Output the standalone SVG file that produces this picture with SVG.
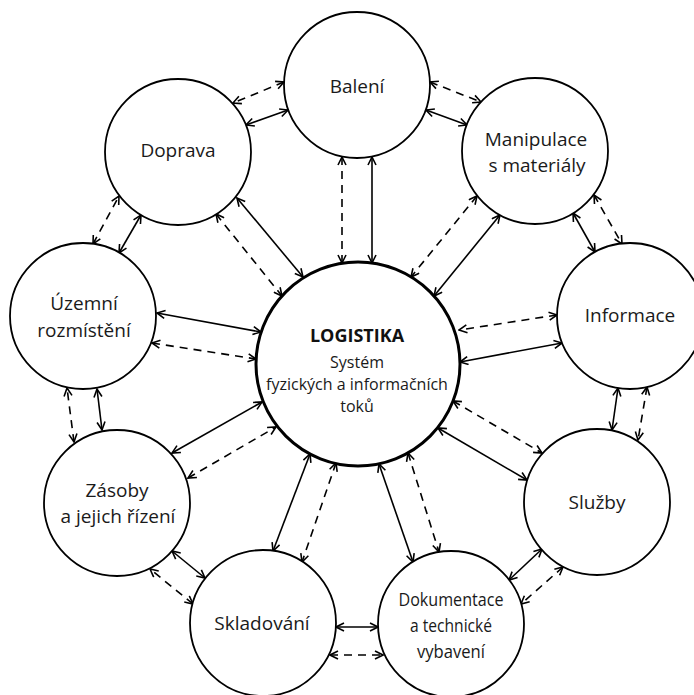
<svg xmlns="http://www.w3.org/2000/svg" width="694" height="695" viewBox="0 0 694 695">
<style>
.node{fill:#fff;stroke:#000;stroke-width:1.8}
.core{fill:#fff;stroke:#000;stroke-width:3}
.lbl{font-family:"Open Sans","Noto Sans",sans-serif;font-size:19px;fill:#1a1a1a;text-anchor:middle}
.sub{font-family:"Open Sans","Noto Sans",sans-serif;font-size:16px;fill:#1a1a1a;text-anchor:middle}
.ttl{font-family:"Open Sans","Noto Sans",sans-serif;font-size:18px;font-weight:bold;fill:#111;text-anchor:middle}
.s{stroke:#000;stroke-width:1.6;fill:none;marker-start:url(#ah);marker-end:url(#ah)}
.d{stroke:#000;stroke-width:1.6;fill:none;stroke-dasharray:8 6;marker-start:url(#ah);marker-end:url(#ah)}
</style>
<defs>
<marker id="ah" viewBox="0 0 10 10" refX="9" refY="5" markerWidth="10" markerHeight="10" markerUnits="userSpaceOnUse" orient="auto-start-reverse">
<path d="M1,1 L9,5 L1,9" fill="none" stroke="#000" stroke-width="1.6" stroke-dasharray="none"/>
</marker>
</defs>
<rect width="694" height="695" fill="#fff"/>
<g id="connectors">
<line class="d" x1="284" y1="82" x2="233" y2="103"/>
<line class="s" x1="288" y1="110" x2="246" y2="125"/>
<line class="d" x1="430" y1="82" x2="481" y2="102"/>
<line class="s" x1="426" y1="110" x2="467" y2="125"/>
<line class="s" x1="573" y1="213" x2="595" y2="252"/>
<line class="d" x1="594" y1="195" x2="622" y2="244"/>
<line class="s" x1="618" y1="388" x2="612" y2="430"/>
<line class="d" x1="647" y1="387" x2="638" y2="440"/>
<line class="s" x1="542" y1="549" x2="509" y2="580"/>
<line class="d" x1="563" y1="567" x2="521" y2="604"/>
<line class="s" x1="336" y1="627" x2="378" y2="627"/>
<line class="d" x1="330" y1="655" x2="383" y2="655"/>
<line class="s" x1="205" y1="578" x2="172" y2="551"/>
<line class="d" x1="193" y1="604" x2="150" y2="569"/>
<line class="s" x1="102" y1="430" x2="97" y2="389"/>
<line class="d" x1="74" y1="442" x2="67" y2="388"/>
<line class="s" x1="119" y1="253" x2="141" y2="215"/>
<line class="d" x1="93" y1="244" x2="119" y2="196"/>
<line class="s" x1="372" y1="157" x2="372" y2="263"/>
<line class="d" x1="342" y1="157" x2="342" y2="263"/>
<line class="s" x1="500" y1="215" x2="434" y2="296"/>
<line class="d" x1="477" y1="196" x2="411" y2="277"/>
<line class="d" x1="557" y1="315" x2="459" y2="330"/>
<line class="s" x1="562" y1="343" x2="460" y2="362"/>
<line class="s" x1="438" y1="428" x2="527" y2="480"/>
<line class="d" x1="453" y1="401" x2="542" y2="453"/>
<line class="s" x1="379" y1="464" x2="413" y2="562"/>
<line class="d" x1="408" y1="453" x2="439" y2="552"/>
<line class="s" x1="310" y1="454" x2="273" y2="551"/>
<line class="d" x1="336" y1="463" x2="302" y2="562"/>
<line class="s" x1="172" y1="453" x2="262" y2="402"/>
<line class="d" x1="188" y1="478" x2="276" y2="427"/>
<line class="s" x1="157" y1="313" x2="261" y2="332"/>
<line class="d" x1="152" y1="343" x2="256" y2="359"/>
<line class="s" x1="237" y1="198" x2="303" y2="277"/>
<line class="d" x1="216" y1="214" x2="282" y2="296"/>
</g>
<g id="logistika">
<circle class="core" cx="358" cy="364" r="102"/>
<text class="ttl" x="357" y="342">LOGISTIKA</text>
<text class="sub" x="357" y="368">Systém</text>
<text class="sub" x="357" y="390">fyzických a informačních</text>
<text class="sub" x="357" y="412">toků</text>
</g>
<g id="baleni">
<circle class="node" cx="357" cy="85" r="73"/>
<text class="lbl" x="357" y="93">Balení</text>
</g>
<g id="manipulace">
<circle class="node" cx="535" cy="151" r="73"/>
<text class="lbl" x="536" y="146">Manipulace</text>
<text class="lbl" x="537" y="172">s materiály</text>
</g>
<g id="doprava">
<circle class="node" cx="178" cy="152" r="73"/>
<text class="lbl" x="178" y="157">Doprava</text>
</g>
<g id="uzemni">
<circle class="node" cx="83" cy="316" r="73"/>
<text class="lbl" x="84" y="310">Územní</text>
<text class="lbl" x="84" y="337">rozmístění</text>
</g>
<g id="informace">
<circle class="node" cx="630" cy="316" r="73"/>
<text class="lbl" x="630" y="322">Informace</text>
</g>
<g id="zasoby">
<circle class="node" cx="117" cy="503" r="73"/>
<text class="lbl" x="117" y="497">Zásoby</text>
<text class="lbl" x="118" y="523">a jejich řízení</text>
</g>
<g id="sluzby">
<circle class="node" cx="597" cy="502" r="73"/>
<text class="lbl" x="597" y="509">Služby</text>
</g>
<g id="skladovani">
<circle class="node" cx="263" cy="623" r="73"/>
<text class="lbl" x="262" y="630">Skladování</text>
</g>
<g id="dokumentace">
<circle class="node" cx="451" cy="624" r="73"/>
<text class="lbl" x="451" y="606" textLength="105" lengthAdjust="spacingAndGlyphs">Dokumentace</text>
<text class="lbl" x="451" y="632" textLength="82" lengthAdjust="spacingAndGlyphs">a technické</text>
<text class="lbl" x="451" y="658" textLength="68" lengthAdjust="spacingAndGlyphs">vybavení</text>
</g>
</svg>
